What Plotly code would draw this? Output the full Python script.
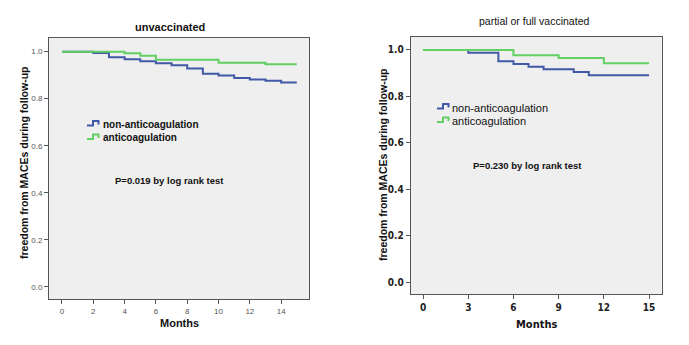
import plotly.graph_objects as go

W, H = 689, 345

# ---- data ----
months_unvacc_non = [0, 2, 3, 4, 5, 6, 7, 8, 9, 10, 11, 12, 13, 14, 15]
surv_unvacc_non = [1.0, 0.994, 0.976, 0.968, 0.959, 0.951, 0.942, 0.928, 0.906, 0.899, 0.888, 0.882, 0.876, 0.869, 0.869]
months_unvacc_anti = [0, 4, 5, 6, 10, 13, 15]
surv_unvacc_anti = [1.0, 0.993, 0.982, 0.966, 0.953, 0.946, 0.946]

months_vacc_non = [0, 3, 5, 6, 7, 8, 10, 11, 15]
surv_vacc_non = [1.0, 0.988, 0.951, 0.940, 0.928, 0.917, 0.905, 0.891, 0.891]
months_vacc_anti = [0, 6, 9, 12, 15]
surv_vacc_anti = [1.0, 0.977, 0.965, 0.943, 0.943]

left_xticks = [0, 2, 4, 6, 8, 10, 12, 14]
right_xticks = [0, 3, 6, 9, 12, 15]
yticks = [0.0, 0.2, 0.4, 0.6, 0.8, 1.0]
ytick_text = ["0.0", "0.2", "0.4", "0.6", "0.8", "1.0"]

BLUE = "#4259a8"
GREEN = "#62d062"
BG = "#efefef"
AX = "#555555"

fig = go.Figure()

fig.add_trace(go.Scatter(x=months_unvacc_non, y=surv_unvacc_non, mode="lines",
                         line=dict(shape="hv", color=BLUE, width=2), xaxis="x", yaxis="y",
                         showlegend=False, name="non-anticoagulation"))
fig.add_trace(go.Scatter(x=months_unvacc_anti, y=surv_unvacc_anti, mode="lines",
                         line=dict(shape="hv", color=GREEN, width=2), xaxis="x", yaxis="y",
                         showlegend=False, name="anticoagulation"))
fig.add_trace(go.Scatter(x=months_vacc_non, y=surv_vacc_non, mode="lines",
                         line=dict(shape="hv", color=BLUE, width=2), xaxis="x2", yaxis="y2",
                         showlegend=False, name="non-anticoagulation"))
fig.add_trace(go.Scatter(x=months_vacc_anti, y=surv_vacc_anti, mode="lines",
                         line=dict(shape="hv", color=GREEN, width=2), xaxis="x2", yaxis="y2",
                         showlegend=False, name="anticoagulation"))

LFONT = "Liberation Sans, Arial, sans-serif"
NFONT = "Liberation Sans Narrow, DejaVu Sans Condensed, Arial Narrow, sans-serif"

def px(x):
    return x / W

def py(y):
    return 1 - y / H

common_axis = dict(showgrid=False, zeroline=False, showline=True, linecolor=AX, linewidth=1,
                   mirror=True, ticks="outside", ticklen=4, tickcolor=AX, fixedrange=True)

fig.update_layout(
    width=W, height=H, margin=dict(l=0, r=0, t=0, b=0),
    paper_bgcolor="white",
    xaxis=dict(domain=[px(49), px(309)], range=[-0.83, 15.78], tickvals=left_xticks,
               tickfont=dict(family=LFONT, size=8, color="#555"), anchor="y", **common_axis),
    yaxis=dict(domain=[py(299), py(38)], range=[-0.052, 1.058], tickvals=yticks, ticktext=ytick_text,
               tickfont=dict(family=LFONT, size=8, color="#555"), anchor="x", **common_axis),
    xaxis2=dict(domain=[px(410.7), px(661.7)], range=[-0.82, 15.84], tickvals=right_xticks,
                tickfont=dict(family=NFONT, size=10, color="#222", weight="bold"), anchor="y2", **common_axis),
    yaxis2=dict(domain=[py(294.3), py(36.7)], range=[-0.052, 1.057], tickvals=yticks, ticktext=ytick_text,
                tickfont=dict(family=NFONT, size=10, color="#222", weight="bold"), anchor="x2", **common_axis),
    plot_bgcolor=BG,
)

ann = []
def text(x, y, s, size, family=LFONT, bold=True, angle=0, xanchor="center", color="#111"):
    ann.append(dict(x=px(x), y=py(y), xref="paper", yref="paper", text=s, showarrow=False,
                    xanchor=xanchor, yanchor="middle", textangle=angle, borderpad=0,
                    font=dict(family=family, size=size, color=color, weight="bold" if bold else "normal")))

# titles
text(169.5, 27, "unvaccinated", 11)
text(534, 21, "partial or full vaccinated", 10.5, bold=False)
# x titles
text(179, 323, "Months", 11)
text(536, 324, "Months", 11, family=NFONT)
# y titles
text(24, 163, "freedom from MACEs during follow-up", 10.5, angle=-90)
text(383, 165, "freedom from MACEs during follow-up", 10.5, angle=-90)
# legend texts
text(102, 124, "non-anticoagulation", 10, xanchor="left")
text(102, 137.5, "anticoagulation", 10, xanchor="left")
text(451, 107.5, "non-anticoagulation", 11, xanchor="left", bold=False)
text(451, 121, "anticoagulation", 11, xanchor="left", bold=False)
# p-values
text(169, 180, "P=0.019 by log rank test", 9.5)
text(527, 165, "P=0.230 by log rank test", 9.5)

shapes = []
def icon(x0, ylow, color):
    yt = ylow - 4.5
    path = (f"M {px(x0)},{py(ylow)} L {px(x0+6)},{py(ylow)} L {px(x0+6)},{py(yt)} "
            f"L {px(x0+11.5)},{py(yt)} L {px(x0+11.5)},{py(ylow-1)}")
    shapes.append(dict(type="path", path=path, xref="paper", yref="paper",
                       line=dict(color=color, width=2)))

icon(87, 125.5, BLUE)
icon(87, 139, GREEN)
icon(437, 108.5, BLUE)
icon(437, 122, GREEN)

fig.update_layout(annotations=ann, shapes=shapes)

fig.write_html("out.html", config={"displayModeBar": False},
               post_script="document.body.style.margin='0';")
